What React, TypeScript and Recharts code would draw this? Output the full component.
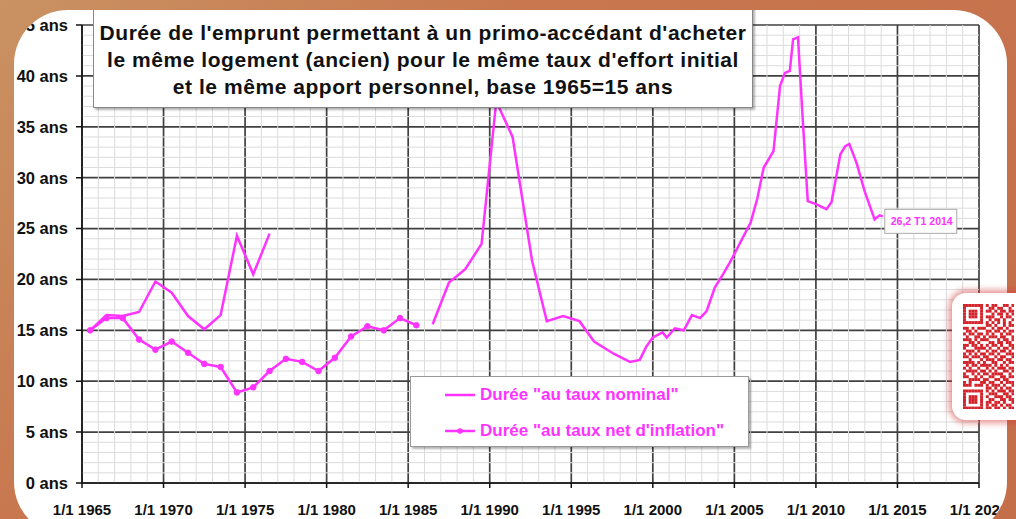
import React from 'react';
import { LineChart, Line, XAxis, YAxis, CartesianGrid, ReferenceLine, Legend, LabelList } from 'recharts';

// Duration at nominal rate: two segments, gap between 1977 and 1986
const nominalYears = [
  1965.5, 1966.5, 1967.5, 1968.5, 1969.5, 1970.5, 1971.5, 1972.5, 1973.5, 1974.5, 1975.5, 1976.5,
  1981,
  1986.5, 1987.5, 1988.5, 1989.5, 1990.4, 1991.4, 1992.6, 1993.5, 1994.5, 1995.5, 1996.4, 1997.6,
  1998.6, 1999.2, 1999.6, 2000.0, 2000.6, 2000.85, 2001.35, 2001.9, 2002.4, 2002.9, 2003.3, 2003.8,
  2004.3, 2004.7, 2005.0, 2005.55, 2006.0, 2006.4, 2006.8, 2007.4, 2007.8, 2008.1, 2008.4, 2008.6,
  2008.9, 2009.2, 2009.5, 2010.0, 2010.65, 2010.96, 2011.5, 2011.8, 2012.05, 2012.5, 2013.0, 2013.6,
  2013.9, 2014.1,
];
const nominalValues = [
  15.0, 16.5, 16.4, 16.8, 19.8, 18.7, 16.4, 15.1, 16.5, 24.3, 20.5, 24.5,
  null,
  15.6, 19.7, 21.0, 23.5, 37.5, 34.0, 21.8, 15.9, 16.4, 15.9, 13.9, 12.7,
  11.9, 12.1, 13.4, 14.3, 14.8, 14.3, 15.2, 15.0, 16.5, 16.2, 16.9, 19.2,
  20.5, 21.6, 22.5, 24.2, 25.6, 27.9, 31.0, 32.6, 39.0, 40.3, 40.5, 43.6,
  43.8, 35.5, 27.7, 27.4, 26.9, 27.6, 32.3, 33.1, 33.3, 31.4, 28.6, 25.9,
  26.3, 26.2,
];

// Duration at rate net of inflation (yearly points)
const netYears = [
  1965.5, 1966.5, 1967.5, 1968.5, 1969.5, 1970.5, 1971.5, 1972.5, 1973.5, 1974.5, 1975.5,
  1976.5, 1977.5, 1978.5, 1979.5, 1980.5, 1981.5, 1982.5, 1983.5, 1984.5, 1985.5,
];
const netValues = [
  15.0, 16.2, 16.2, 14.1, 13.1, 13.9, 12.8, 11.7, 11.4, 8.9, 9.4,
  11.0, 12.2, 11.9, 11.0, 12.3, 14.4, 15.4, 15.0, 16.2, 15.5,
];

const xTicks = [1965, 1970, 1975, 1980, 1985, 1990, 1995, 2000, 2005, 2010, 2015, 2020];
const yTicks = [0, 5, 10, 15, 20, 25, 30, 35, 40, 45];
const titleLines = [
  "Durée de l'emprunt permettant à un primo-accédant d'acheter",
  "le même logement (ancien) pour le même taux d'effort initial",
  'et le même apport personnel, base 1965=15 ans',
];
const nominalName = 'Durée "au taux nominal"';
const netName = 'Durée "au taux net d\'inflation"';
const endLabel = '26,2 T1 2014';

const nominalData = nominalYears.map((x, i) => ({ x, y: nominalValues[i] }));
const netData = netYears.map((x, i) => ({ x, y: netValues[i] }));

const minorX: number[] = [];
for (let v = 1966; v < 2020; v++) if (v % 5 !== 0) minorX.push(v);
const minorY: number[] = [];
for (let v = 1; v < 45; v++) if (v % 5 !== 0) minorY.push(v);

const MAGENTA = '#ff33ff';
const FONT = '"Liberation Sans", Arial, sans-serif';

const qrRows = [
  '111111101011001101',
  '100000100110110010',
  '101110101101011011',
  '101110100010110101',
  '101110101110010110',
  '100000100101101001',
  '111111101010101010',
  '000000001101001011',
  '110101110010110100',
  '011010001101101011',
  '101101101010010110',
  '010011010111011001',
  '111010111000101101',
  '001101000110110110',
  '110110101011010011',
  '100011110100101101',
  '011101001011011010',
  '101010110110100111',
  '110111011001011001',
  '001000101110110110',
  '111101010011001011',
  '010110111101010100',
  '101001001010111011',
  '011110110101001101',
  '100101011011110010',
  '110010100110011011',
  '001111011001101100',
  '101000110110010111',
  '111011101011101001',
  '000000001101010110',
  '111111101010111011',
  '100000100111001101',
  '101110101001110110',
  '101110100110011011',
  '101110101101101001',
  '100000101011010110',
  '111111101101101011',
];

const QrCode = () => {
  const m = 2.85;
  return (
    <svg width={18 * m} height={37 * m} style={{ position: 'absolute', left: 11, top: 11 }}>
      {qrRows.map((row, r) =>
        row.split('').map((c, k) =>
          c === '1' ? <rect key={`${r}-${k}`} x={k * m} y={r * m} width={m + 0.1} height={m + 0.1} fill="#d3232b" /> : null
        )
      )}
    </svg>
  );
};

const LegendBox = (props: any) => {
  const payload = [...(props.payload || [])].sort((a: any, b: any) =>
    a.value === nominalName ? -1 : b.value === nominalName ? 1 : 0
  );
  return (
    <div
      style={{
        width: 337,
        height: 69,
        background: '#fff',
        border: '1px solid #999',
        boxShadow: '2px 2px 2px rgba(0,0,0,0.3)',
        fontFamily: FONT,
        fontWeight: 'bold',
        fontSize: 17,
        color: MAGENTA,
        position: 'relative',
      }}
    >
      {payload.map((p: any, i: number) => (
        <div key={i} style={{ position: 'absolute', left: 34, top: 6 + i * 36, height: 24, display: 'flex', alignItems: 'center' }}>
          <svg width={30} height={10} style={{ marginRight: 5 }}>
            <line x1={0} y1={5} x2={30} y2={5} stroke={MAGENTA} strokeWidth={2.5} />
            {p.value === netName && <circle cx={15} cy={5} r={2.8} fill={MAGENTA} />}
          </svg>
          <span>{p.value}</span>
        </div>
      ))}
    </div>
  );
};

const EndLabel = (props: any) => {
  const { x, y, index } = props;
  if (index !== nominalData.length - 1) return null;
  return (
    <g>
      <rect x={x + 2} y={y - 7} width={72} height={24} fill="#fff" stroke="#aaa" strokeWidth={1} />
      <text x={x + 8} y={y + 9} fill={MAGENTA} fontSize={10.5} fontWeight="bold" fontFamily={FONT}>
        {endLabel}
      </text>
    </g>
  );
};

const App: React.FC = () => {
  return (
    <div
      style={{
        position: 'absolute',
        left: 0,
        top: 0,
        width: 1016,
        height: 519,
        overflow: 'hidden',
        background: 'linear-gradient(135deg, #c99262 0%, #c8774f 35%, #c56e4a 100%)',
      }}
    >
      <div
        style={{
          position: 'absolute',
          left: 14,
          top: 10,
          width: 993,
          height: 526,
          borderRadius: 54,
          overflow: 'hidden',
          background: '#fff',
        }}
      >
        <div style={{ position: 'absolute', left: -14, top: -10, width: 1016, height: 519 }}>
          <LineChart width={1016} height={519} margin={{ top: 25, right: 37, bottom: 0, left: 0 }}>
            {minorX.map((v) => (
              <ReferenceLine key={`mx${v}`} x={v} stroke="#dcdcdc" strokeWidth={1} />
            ))}
            {minorY.map((v) => (
              <ReferenceLine key={`my${v}`} y={v} stroke="#dcdcdc" strokeWidth={1} />
            ))}
            <CartesianGrid stroke="#404040" strokeWidth={1.7} />
            <XAxis
              dataKey="x"
              type="number"
              domain={[1965, 2020]}
              ticks={xTicks}
              allowDuplicatedCategory={false}
              tickFormatter={(v) => `1/1 ${v}`}
              height={36}
              tickSize={5}
              tickMargin={16}
              stroke="#111"
              strokeWidth={1.5}
              tick={{ fill: '#111', fontSize: 15, fontWeight: 'bold', fontFamily: FONT }}
            />
            <YAxis
              type="number"
              domain={[0, 45]}
              ticks={yTicks}
              width={82}
              tickSize={6}
              tickMargin={8}
              tickFormatter={(v) => `${v} ans`}
              stroke="#111"
              strokeWidth={1.5}
              tick={{ fill: '#111', fontSize: 16.5, fontWeight: 'bold', fontFamily: FONT }}
            />
            <Legend
              layout="horizontal"
              verticalAlign="middle"
              align="center"
              wrapperStyle={{ left: 410, top: 376, width: 339 }}
              content={<LegendBox />}
            />
            <Line
              data={nominalData}
              dataKey="y"
              name={nominalName}
              stroke={MAGENTA}
              strokeWidth={2.5}
              dot={false}
              connectNulls={false}
              isAnimationActive={false}
            >
              <LabelList dataKey="y" content={<EndLabel />} />
            </Line>
            <Line
              data={netData}
              dataKey="y"
              name={netName}
              stroke={MAGENTA}
              strokeWidth={2.5}
              dot={{ r: 2.8, fill: MAGENTA, stroke: MAGENTA, strokeWidth: 1 }}
              isAnimationActive={false}
            />
          </LineChart>
          <div
            style={{
              position: 'absolute',
              left: 93,
              top: 6,
              width: 660,
              height: 102,
              background: '#fff',
              border: '1px solid #888',
              boxShadow: '2px 2px 2px rgba(0,0,0,0.3)',
              fontFamily: FONT,
              fontWeight: 'bold',
              fontSize: 21,
              letterSpacing: 0.55,
              lineHeight: '27px',
              color: '#111',
              textAlign: 'center',
              paddingTop: 12,
              boxSizing: 'border-box',
              whiteSpace: 'nowrap',
            }}
          >
            {titleLines.map((t, i) => (
              <div key={i}>{t}</div>
            ))}
          </div>
        </div>
      </div>
      <div
        style={{
          position: 'absolute',
          left: 952,
          top: 293,
          width: 90,
          height: 127,
          borderRadius: 14,
          background: '#fff',
          boxShadow: '0 0 6px 3px rgba(210,60,60,0.55)',
        }}
      >
        <QrCode />
      </div>
    </div>
  );
};

export default App;
